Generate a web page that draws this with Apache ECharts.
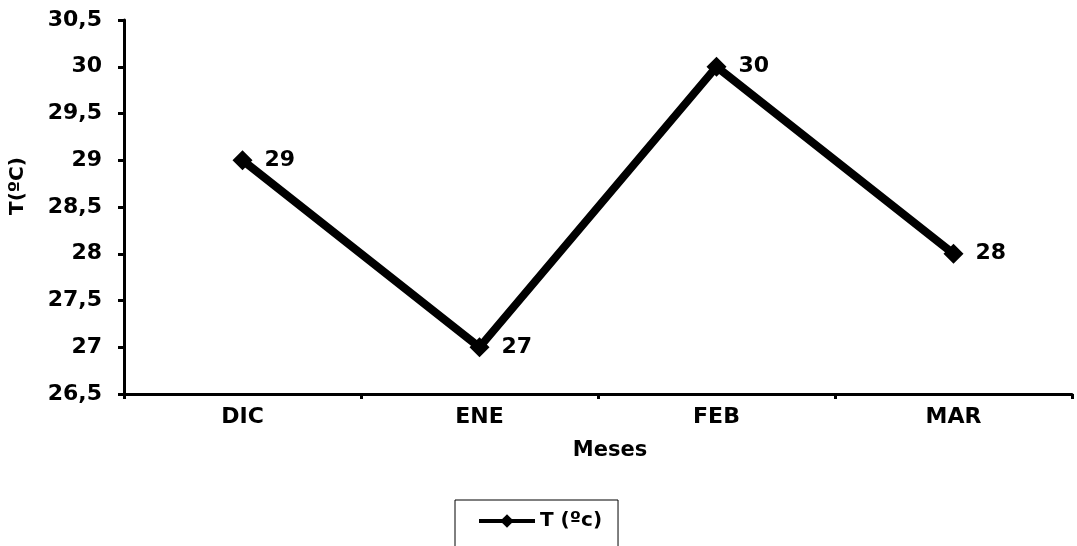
<!DOCTYPE html>
<html>
<head>
<meta charset="utf-8">
<script src="https://cdn.jsdelivr.net/npm/echarts@6/dist/echarts.min.js"></script>
<style>
  html, body { margin: 0; padding: 0; background: #fff; }
  #chart { width: 1077px; height: 546px; }
</style>
</head>
<body>
<div id="chart"></div>
<script>
// Monthly mean temperature
const months = ['DIC', 'ENE', 'FEB', 'MAR'];
const temps = [29, 27, 30, 28];
const seriesName = 'T (ºc)';
const yTicks = { min: 26.5, max: 30.5, step: 0.5 };

const font = '"DejaVu Sans", Verdana, sans-serif';
const txt = (size, extra) => Object.assign({ fontFamily: font, fontWeight: 'bold', fontSize: size, color: '#000' }, extra || {});
const chart = echarts.init(document.getElementById('chart'));

chart.setOption({
  backgroundColor: '#fff',
  animation: false,
  grid: { left: 124, right: 5, top: 20, bottom: 152, containLabel: false },
  legend: {
    data: [seriesName],
    left: 455,
    top: 500,
    padding: [11, 16, 24, 22],
    borderColor: '#000',
    borderWidth: 1,
    borderRadius: 0,
    itemWidth: 56,
    itemHeight: 17,
    itemGap: 4,
    lineStyle: { width: 4, color: '#000' },
    itemStyle: { color: '#000' },
    textStyle: txt(20)
  },
  xAxis: {
    type: 'category',
    data: months,
    boundaryGap: true,
    name: 'Meses',
    nameLocation: 'middle',
    nameGap: 46,
    nameTextStyle: txt(21, { padding: [0, 0, 0, 24] }),
    axisLine: { lineStyle: { color: '#000', width: 3 } },
    axisTick: { show: true, alignWithLabel: false, length: 5, lineStyle: { color: '#000', width: 3 } },
    axisLabel: txt(22, { margin: 12 }),
    splitLine: { show: false }
  },
  yAxis: {
    type: 'value',
    min: yTicks.min,
    max: yTicks.max,
    interval: yTicks.step,
    name: 'T(ºC)',
    nameLocation: 'middle',
    nameGap: 96,
    nameRotate: 90,
    nameTextStyle: txt(20, { padding: [0, 0, 0, 42] }),
    axisLine: { show: true, lineStyle: { color: '#000', width: 3 } },
    axisTick: { show: true, length: 6, lineStyle: { color: '#000', width: 3 } },
    axisLabel: txt(22, { margin: 22, formatter: v => String(v).replace('.', ',') }),
    splitLine: { show: false }
  },
  series: [{
    name: seriesName,
    type: 'line',
    data: temps,
    symbol: 'diamond',
    symbolSize: 20,
    lineStyle: { color: '#000', width: 8 },
    itemStyle: { color: '#000' },
    label: txt(22, { show: true, position: 'right', distance: 12 })
  }]
});
</script>
</body>
</html>
